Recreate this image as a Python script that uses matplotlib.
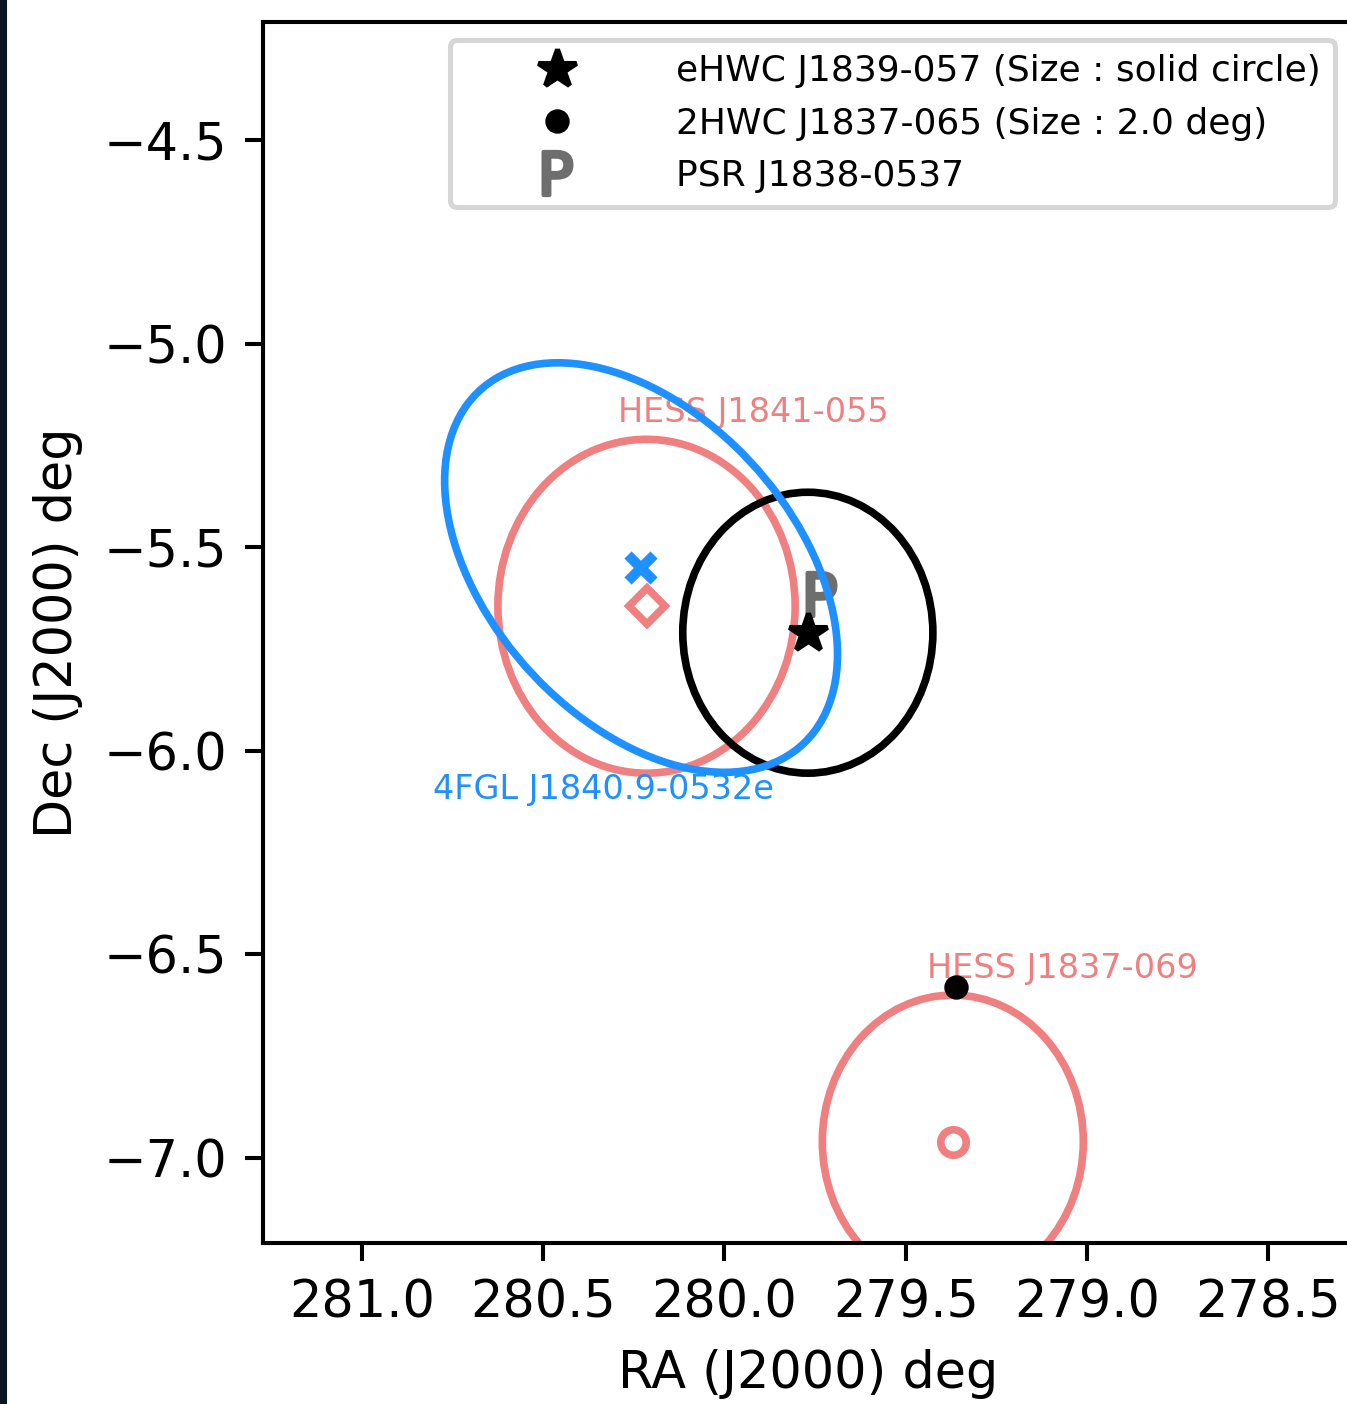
import numpy as np
import matplotlib
matplotlib.use("Agg")
import matplotlib.pyplot as plt
from matplotlib.patches import Ellipse, Rectangle
from matplotlib.lines import Line2D

# ---------------- data (deg) ----------------
ehwc_name = "eHWC J1839-057 (Size : solid circle)"
ehwc_ra, ehwc_dec, ehwc_r = 279.77, -5.71, 0.345

hwc2_name = "2HWC J1837-065 (Size : 2.0 deg)"
hwc2_ra, hwc2_dec = 279.36, -6.58

psr_name = "PSR J1838-0537"
psr_ra, psr_dec = 279.733, -5.615

hess_names = ["HESS J1841-055", "HESS J1837-069"]
hess_ra = [280.215, 279.37]
hess_dec = [-5.645, -6.96]
hess_r = [0.41, 0.36]
hess_markers = ["D", "o"]

fgl_name = "4FGL J1840.9-0532e"
fgl_ra, fgl_dec = 280.23, -5.55
fgl_a, fgl_b, fgl_pa = 0.625, 0.395, 40.0

xticks = [281.0, 280.5, 280.0, 279.5, 279.0, 278.5]
yticks = [-4.5, -5.0, -5.5, -6.0, -6.5, -7.0]

# ---------------- figure ----------------
DPI = 366
fig = plt.figure(figsize=(1347 / DPI, 1404 / DPI), dpi=DPI)
ax = fig.add_axes([263 / 1347, 1 - 1243 / 1404, (1353 - 263) / 1347, (1243 - 22) / 1404])

blue = "#1e90ff"
pink = "#f08080"
psr_col = "#6e6e6e"
lw = 1.5

# pink HESS sources
for name, ra, dec, r, mk in zip(hess_names, hess_ra, hess_dec, hess_r, hess_markers):
    ax.add_patch(Ellipse((ra, dec), 2 * r, 2 * r, fill=False, ec=pink, lw=lw, zorder=2))
    ax.plot([ra], [dec], marker=mk, ms=5, mfc="white", mec=pink, mew=1.5, ls="none", zorder=3)

# eHWC
ax.add_patch(Ellipse((ehwc_ra, ehwc_dec), 2 * ehwc_r, 2 * ehwc_r, fill=False, ec="black", lw=lw, zorder=2))

# PSR
ax.plot([psr_ra], [psr_dec], marker=r"$\mathrm{P}$", ms=8.5, mew=0.8, color=psr_col, ls="none", zorder=3)
# eHWC star
ax.plot([ehwc_ra], [ehwc_dec], marker="*", ms=8, color="black", ls="none", zorder=4)
# 2HWC dot
ax.plot([hwc2_ra], [hwc2_dec], marker="o", ms=3.8, color="black", ls="none", zorder=4)

# 4FGL
ax.add_patch(Ellipse((fgl_ra, fgl_dec), 2 * fgl_a, 2 * fgl_b, angle=fgl_pa, fill=False,
                     ec=blue, lw=lw, zorder=5))
ax.plot([fgl_ra], [fgl_dec], marker="x", ms=5, mew=2, color=blue, ls="none", zorder=5)

# labels
ax.text(hess_ra[0] + 0.08, hess_dec[0] + hess_r[0] + 0.065, hess_names[0], color=pink,
        fontsize=6.6, ha="left", va="center")
ax.text(hess_ra[1] + 0.07, hess_dec[1] + hess_r[1] + 0.065, hess_names[1], color=pink,
        fontsize=6.6, ha="left", va="center")
ax.text(fgl_ra + 0.575, fgl_dec - 0.545, fgl_name, color=blue,
        fontsize=6.6, ha="left", va="center")

ax.set_xlim(281.273, 278.266)
ax.set_ylim(-7.209, -4.21)
ax.set_xticks(xticks)
ax.set_yticks(yticks)
ax.set_xlabel("RA (J2000) deg", fontsize=10)
ax.set_ylabel("Dec (J2000) deg", fontsize=10)

handles = [
    Line2D([], [], marker="*", ms=8, color="black", ls="none"),
    Line2D([], [], marker="o", ms=3.8, color="black", ls="none"),
    Line2D([], [], marker=r"$\mathrm{P}$", ms=8.5, mew=0.8, color=psr_col, ls="none"),
]
ax.legend(handles, [ehwc_name, hwc2_name, psr_name], loc="upper right", fontsize=7.1,
          handlelength=5.1, handletextpad=0.75, labelspacing=0.5)

fig.add_artist(Rectangle((0, 0), 4 / 1347, 1, transform=fig.transFigure, color="#0a1722", zorder=10))

fig.savefig("out.png", dpi=DPI)
